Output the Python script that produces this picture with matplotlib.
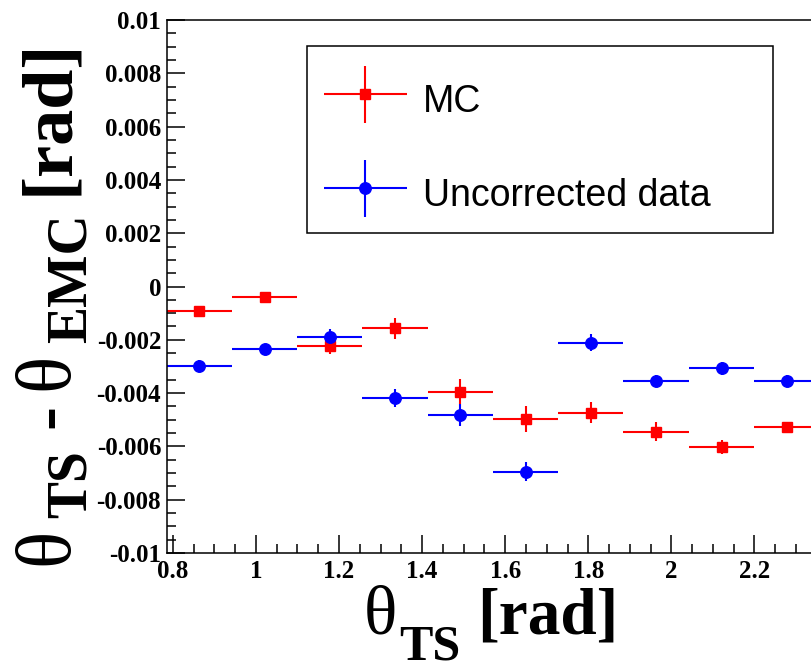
import matplotlib
matplotlib.use('Agg')
import matplotlib.pyplot as plt
from matplotlib.container import ErrorbarContainer
from matplotlib.legend_handler import HandlerErrorbar
from matplotlib.patches import Rectangle
from matplotlib.ticker import MultipleLocator, FuncFormatter
from matplotlib.transforms import IdentityTransform

# theta_TS bins (pi/20 wide, starting at pi/4)
theta_ts = [0.864, 1.021, 1.178, 1.335, 1.492, 1.649, 1.806, 1.963, 2.121, 2.278]
half_bin = [0.0785] * 10

# theta_TS - theta_EMC residuals [rad]
mc_delta = [-0.00091, -0.00038, -0.00223, -0.00157, -0.00395,
            -0.00498, -0.00473, -0.00545, -0.00603, -0.00526]
mc_err = [0.00010, 0.00015, 0.00030, 0.00040, 0.00047,
          0.00049, 0.00040, 0.00035, 0.00027, 0.00010]
data_delta = [-0.00297, -0.00236, -0.00191, -0.00417, -0.00482,
              -0.00695, -0.00211, -0.00353, -0.00307, -0.00353]
data_err = [0.00020, 0.00020, 0.00030, 0.00034, 0.00040,
            0.00036, 0.00031, 0.00020, 0.00025, 0.00020]

fig = plt.figure(figsize=(8.12, 6.72), dpi=100)
ax = fig.add_axes([166.7 / 812, 119 / 672, 652.7 / 812, 533 / 672])

ax.errorbar(theta_ts, mc_delta, xerr=half_bin, yerr=mc_err, fmt='s', color='red',
            ms=7.2, elinewidth=1.5, capsize=0, label='MC')
ax.errorbar(theta_ts, data_delta, xerr=half_bin, yerr=data_err, fmt='o', color='blue',
            ms=8.3, elinewidth=1.5, capsize=0, label='Uncorrected data')

ax.set_xlim(0.7854, 2.3562)
ax.set_ylim(-0.01, 0.01)

# ROOT-like axes: ticks inside, bold serif labels
ax.xaxis.set_major_locator(MultipleLocator(0.2))
ax.xaxis.set_minor_locator(MultipleLocator(0.05))
ax.yaxis.set_major_locator(MultipleLocator(0.002))
ax.yaxis.set_minor_locator(MultipleLocator(0.0005))
fmt = FuncFormatter(lambda v, pos: f'{round(v, 6) + 0.0:g}')
ax.xaxis.set_major_formatter(fmt)
ax.yaxis.set_major_formatter(fmt)
ax.tick_params(which='major', direction='in', length=13, width=1.1, labelsize=18, pad=4)
ax.tick_params(which='minor', direction='in', length=6.5, width=1.1)
ax.tick_params(axis='x', pad=5)
for lab in ax.get_xticklabels() + ax.get_yticklabels():
    lab.set_fontfamily('Liberation Serif')
    lab.set_fontweight('bold')
for sp in ax.spines.values():
    sp.set_linewidth(1.1)

leg = ax.legend(loc='upper left', bbox_to_anchor=(294 / 812, 1 - 46 / 672),
                bbox_transform=fig.transFigure, borderaxespad=0,
                prop={'family': 'Liberation Sans', 'size': 27}, numpoints=1,
                handlelength=2.21, handleheight=1.6, handletextpad=0.44,
                borderpad=0.8, labelspacing=1.22, frameon=False,
                handler_map={ErrorbarContainer: HandlerErrorbar(xerr_size=1.107, yerr_size=0.76)})
fig.add_artist(Rectangle((307 / 812, 1 - 233 / 672), 466 / 812, 187 / 672,
                         transform=fig.transFigure, fill=False, lw=1.1, ec='black'))


def axis_title(pieces, x, y, rotation=0):
    """Lay out (text, size, weight, drop, gap) pieces along one baseline (pixels)."""
    r = fig.canvas.get_renderer()
    pos = 0.0
    for s, size, weight, drop, gap in pieces:
        if rotation == 90:
            px, py = x + drop, y + pos
        else:
            px, py = x + pos, y - drop
        t = fig.text(px, py, s, fontsize=size, fontweight=weight, family='Liberation Serif',
                     rotation=rotation, rotation_mode='anchor', ha='left', va='baseline',
                     transform=IdentityTransform())
        bb = t.get_window_extent(r)
        pos += (bb.height if rotation == 90 else bb.width) + gap


axis_title([('θ', 56, 'normal', 0, 10),
            ('TS', 40, 'bold', 19, 22),
            ('-', 52, 'bold', 0, 14),
            ('θ', 56, 'normal', 0, 10),
            ('EMC', 40, 'bold', 19, 18),
            ('[rad]', 52, 'bold', 0, 0)], 67, 107, rotation=90)
axis_title([('θ', 50, 'normal', 0, 2),
            ('TS', 36, 'bold', 26, 16),
            ('[rad]', 47, 'bold', 0, 0)], 364, 38)

fig.savefig('out.png', dpi=100)
